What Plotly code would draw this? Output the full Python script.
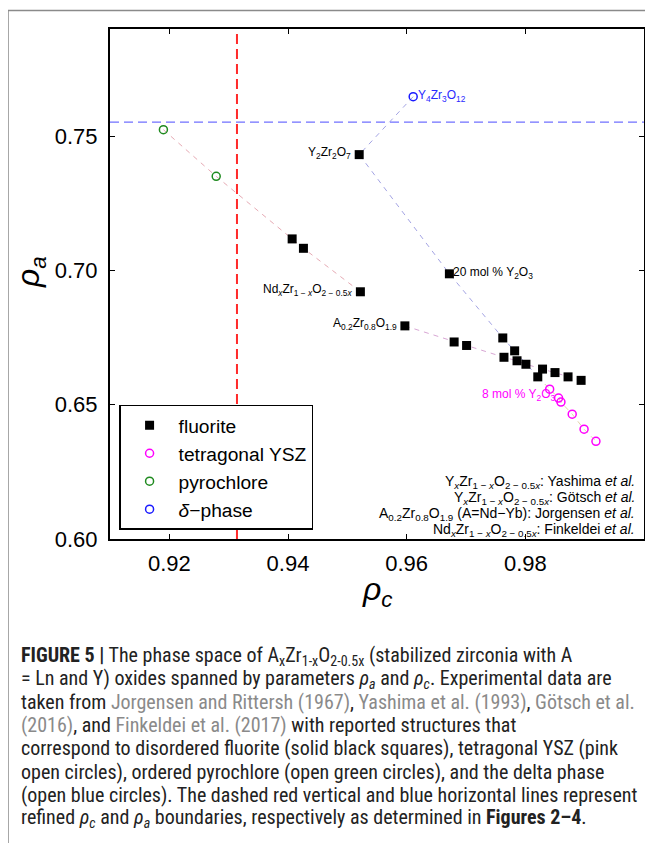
import plotly.graph_objects as go

# ---------------- data ----------------
x_range = [0.91, 1.0]
y_range = [0.60, 0.79]
x_ticks = [0.92, 0.94, 0.96, 0.98]
y_ticks = [0.60, 0.65, 0.70, 0.75]

rc_boundary = 0.9314   # dashed red vertical
ra_boundary = 0.7553   # dashed blue horizontal

# Finkeldei et al. (NdxZr1-xO2-0.5x)
fink_pyro_rc = [0.9190, 0.9279]
fink_pyro_ra = [0.7525, 0.7351]
fink_fluo_rc = [0.9407, 0.9426, 0.9522]
fink_fluo_ra = [0.7118, 0.7083, 0.6921]

# Goetsch et al. (YxZr1-xO2-0.5x)
gotsch_delta_rc = [0.9611]
gotsch_delta_ra = [0.7648]
gotsch_fluo_rc = [0.9520]
gotsch_fluo_ra = [0.7432]

# Yashima et al. (YxZr1-xO2-0.5x)
yash_fluo_rc = [0.9672, 0.9762, 0.9782, 0.9821]
yash_fluo_ra = [0.6988, 0.6749, 0.6701, 0.6604]
yash_tet_rc = [0.9841, 0.9856, 0.9860, 0.9879, 0.9899, 0.9919]
yash_tet_ra = [0.6558, 0.6525, 0.6510, 0.6465, 0.6409, 0.6364]

# Jorgensen et al. (A0.2Zr0.8O1.9, A = Nd-Yb)
jorg_fluo_rc = [0.9597, 0.9680, 0.9701, 0.9764, 0.9786, 0.9801, 0.9829, 0.9850, 0.9872, 0.9894]
jorg_fluo_ra = [0.6794, 0.6734, 0.6721, 0.6677, 0.6664, 0.6651, 0.6633, 0.6620, 0.6604, 0.6591]

legend_names = ["fluorite", "tetragonal YSZ", "pyrochlore", "<i>δ</i>−phase"]

SUBX = "Zr<sub>1 − <i>x</i></sub>O<sub>2 − 0.5<i>x</i></sub>"
ref_lines = [
    "Y<sub><i>x</i></sub>" + SUBX + ": Yashima <i>et al.</i>",
    "Y<sub><i>x</i></sub>" + SUBX + ": Götsch <i>et al.</i>",
    "A<sub>0.2</sub>Zr<sub>0.8</sub>O<sub>1.9</sub> (A=Nd−Yb): Jorgensen <i>et al.</i>",
    "Nd<sub><i>x</i></sub>" + SUBX + ": Finkeldei <i>et al.</i>",
]
ref_line_y = [482, 498, 514, 530]   # screen px centres

G = '<span style="color:#8a8a8a">'
E = '</span>'
caption_lines = [
    "<b>FIGURE 5 |</b> The phase space of A<sub>x</sub>Zr<sub>1-x</sub>O<sub>2-0.5x</sub> (stabilized zirconia with A",
    "= Ln and Y) oxides spanned by parameters <i>ρ<sub>a</sub></i> and <i>ρ<sub>c</sub></i>. Experimental data are",
    "taken from " + G + "Jorgensen and Rittersh (1967)" + E + ", " + G + "Yashima et al. (1993)" + E + ", " + G + "Götsch et al." + E,
    G + "(2016)" + E + ", and " + G + "Finkeldei et al. (2017)" + E + " with reported structures that",
    "correspond to disordered fluorite (solid black squares), tetragonal YSZ (pink",
    "open circles), ordered pyrochlore (open green circles), and the delta phase",
    "(open blue circles). The dashed red vertical and blue horizontal lines represent",
    "refined <i>ρ<sub>c</sub></i> and <i>ρ<sub>a</sub></i> boundaries, respectively as determined in <b>Figures 2–4</b>.",
]

# ---------------- layout geometry (screen pixels) ----------------
SW, SH = 653, 843          # window
OFF = 8                    # default page body margin
L, R, T, B = 110, 644, 29, 539
PW, PH = R - L, B - T


def px2x(px):
    return (px - L) / PW


def py2y(py):
    return (B - py) / PH


FONT = "Liberation Sans, Arial, Helvetica, sans-serif"

fig = go.Figure()

# connecting dashed lines
fig.add_trace(go.Scatter(x=fink_pyro_rc + fink_fluo_rc, y=fink_pyro_ra + fink_fluo_ra,
                         mode="lines", line=dict(color="#e6aab4", width=1, dash="5px,5px"),
                         showlegend=False, hoverinfo="skip"))
fig.add_trace(go.Scatter(x=gotsch_delta_rc + gotsch_fluo_rc + yash_fluo_rc,
                         y=gotsch_delta_ra + gotsch_fluo_ra + yash_fluo_ra,
                         mode="lines", line=dict(color="#a4a4e4", width=1, dash="5px,5px"),
                         showlegend=False, hoverinfo="skip"))
fig.add_trace(go.Scatter(x=yash_fluo_rc[-1:] + yash_tet_rc, y=yash_fluo_ra[-1:] + yash_tet_ra,
                         mode="lines", line=dict(color="#e2d2a8", width=1, dash="5px,5px"),
                         showlegend=False, hoverinfo="skip"))
fig.add_trace(go.Scatter(x=jorg_fluo_rc, y=jorg_fluo_ra,
                         mode="lines", line=dict(color="#d8a6d4", width=1, dash="5px,5px"),
                         showlegend=False, hoverinfo="skip"))

# markers
fluo_rc = fink_fluo_rc + gotsch_fluo_rc + yash_fluo_rc + jorg_fluo_rc
fluo_ra = fink_fluo_ra + gotsch_fluo_ra + yash_fluo_ra + jorg_fluo_ra
fig.add_trace(go.Scatter(x=fluo_rc, y=fluo_ra, mode="markers", name=legend_names[0],
                         marker=dict(symbol="square", size=9, color="black",
                                     line=dict(color="black", width=0))))
fig.add_trace(go.Scatter(x=yash_tet_rc, y=yash_tet_ra, mode="markers", name=legend_names[1],
                         marker=dict(symbol="circle-open", size=8, color="#ff00ff",
                                     line=dict(color="#ff00ff", width=1.5))))
fig.add_trace(go.Scatter(x=fink_pyro_rc, y=fink_pyro_ra, mode="markers", name=legend_names[2],
                         marker=dict(symbol="circle-open", size=8, color="#1f8a1f",
                                     line=dict(color="#1f8a1f", width=1.5))))
fig.add_trace(go.Scatter(x=gotsch_delta_rc, y=gotsch_delta_ra, mode="markers", name=legend_names[3],
                         marker=dict(symbol="circle-open", size=8, color="#1a1aff",
                                     line=dict(color="#1a1aff", width=1.5))))

# point labels
lab_font = dict(family=FONT, size=12, color="black")
ann = []
ann.append(dict(x=gotsch_delta_rc[0], y=gotsch_delta_ra[0], xref="x", yref="y",
                text="Y<sub>4</sub>Zr<sub>3</sub>O<sub>12</sub>", showarrow=False,
                xanchor="left", yanchor="middle", xshift=3, yshift=1,
                font=dict(family=FONT, size=12, color="#2a2aff")))
ann.append(dict(x=gotsch_fluo_rc[0], y=gotsch_fluo_ra[0], xref="x", yref="y",
                text="Y<sub>2</sub>Zr<sub>2</sub>O<sub>7</sub>", showarrow=False,
                xanchor="right", yanchor="middle", xshift=-6, yshift=2, font=lab_font))
ann.append(dict(x=yash_fluo_rc[0], y=yash_fluo_ra[0], xref="x", yref="y",
                text="20 mol % Y<sub>2</sub>O<sub>3</sub>", showarrow=False,
                xanchor="left", yanchor="middle", xshift=2, yshift=1, font=lab_font))
ann.append(dict(x=fink_fluo_rc[-1], y=fink_fluo_ra[-1], xref="x", yref="y",
                text="Nd<sub><i>x</i></sub>" + SUBX,
                showarrow=False, xanchor="right", yanchor="middle", xshift=-6, yshift=2, font=lab_font))
ann.append(dict(x=jorg_fluo_rc[0], y=jorg_fluo_ra[0], xref="x", yref="y",
                text="A<sub>0.2</sub>Zr<sub>0.8</sub>O<sub>1.9</sub>", showarrow=False,
                xanchor="right", yanchor="middle", xshift=-6, yshift=2, font=lab_font))
ann.append(dict(x=yash_tet_rc[1], y=yash_tet_ra[1], xref="x", yref="y",
                text="8 mol % Y<sub>2</sub>O<sub>3</sub>", showarrow=False,
                xanchor="right", yanchor="middle", xshift=-2, yshift=3,
                font=dict(family=FONT, size=12, color="#ff00ff")))

# reference block (bottom right)
for txt, yy in zip(ref_lines, ref_line_y):
    ann.append(dict(x=px2x(637), y=py2y(yy), xref="paper", yref="paper",
                    text=txt, showarrow=False, align="right",
                    xanchor="right", yanchor="middle", font=dict(family=FONT, size=14, color="black")))

# axis titles
ann.append(dict(x=px2x(377), y=py2y(591), xref="paper", yref="paper",
                text="<i>ρ</i><sub><i>c</i></sub>", showarrow=False,
                xanchor="center", yanchor="middle", font=dict(family=FONT, size=32, color="black")))
ann.append(dict(x=px2x(30), y=py2y(272), xref="paper", yref="paper",
                text="<i>ρ</i><sub><i>a</i></sub>", showarrow=False, textangle=-90,
                xanchor="center", yanchor="middle", font=dict(family=FONT, size=32, color="black")))

# caption
cap_font = dict(family="Liberation Sans Narrow, Roboto Condensed, sans-serif", size=20.0, color="#222222")
for i, line in enumerate(caption_lines):
    ann.append(dict(x=px2x(19), y=py2y(656 + i * 23.1), xref="paper", yref="paper",
                    text=line, showarrow=False, xanchor="left", yanchor="middle",
                    align="left", font=cap_font))

# boundary lines + outer frame
shapes = [
    dict(type="line", xref="x", yref="paper", x0=rc_boundary, x1=rc_boundary, y0=0, y1=1,
         line=dict(color="#ff2a2a", width=2, dash="10px,5px"), layer="above"),
    dict(type="line", xref="paper", yref="y", x0=0, x1=1, y0=ra_boundary, y1=ra_boundary,
         line=dict(color="#7070ff", width=1.2, dash="9px,5px"), layer="above"),
    dict(type="line", xref="paper", yref="paper", x0=px2x(8), x1=px2x(8),
         y0=py2y(10.5), y1=py2y(860), line=dict(color="#8a8a8a", width=1.5, dash="solid")),
    dict(type="line", xref="paper", yref="paper", x0=px2x(8), x1=px2x(670),
         y0=py2y(10.5), y1=py2y(10.5), line=dict(color="#8a8a8a", width=1.5, dash="solid")),
]

axis_common = dict(showgrid=False, zeroline=False, showline=True, linecolor="black", linewidth=2,
                   mirror="ticks", ticks="inside", ticklen=5, tickwidth=1, tickcolor="black",
                   tickfont=dict(family=FONT, size=22, color="black"))

fig.update_layout(
    width=SW - OFF, height=SH - OFF,
    margin=dict(l=L - OFF, r=SW - R, t=T - OFF, b=SH - B, autoexpand=False),
    paper_bgcolor="white", plot_bgcolor="white",
    xaxis=dict(range=x_range, tickvals=x_ticks, tickformat=".2f", ticklabelstandoff=4, **axis_common),
    yaxis=dict(range=y_range, tickvals=y_ticks, tickformat=".2f", ticklabelstandoff=6, **axis_common),
    legend=dict(x=0.017, y=0.018, xanchor="left", yanchor="bottom",
                bgcolor="white", bordercolor="black", borderwidth=1.5,
                font=dict(family=FONT, size=19.2, color="black"), itemwidth=48, tracegroupgap=0),
    annotations=ann,
    shapes=shapes,
    showlegend=True,
)

fig.write_html("out.html")
